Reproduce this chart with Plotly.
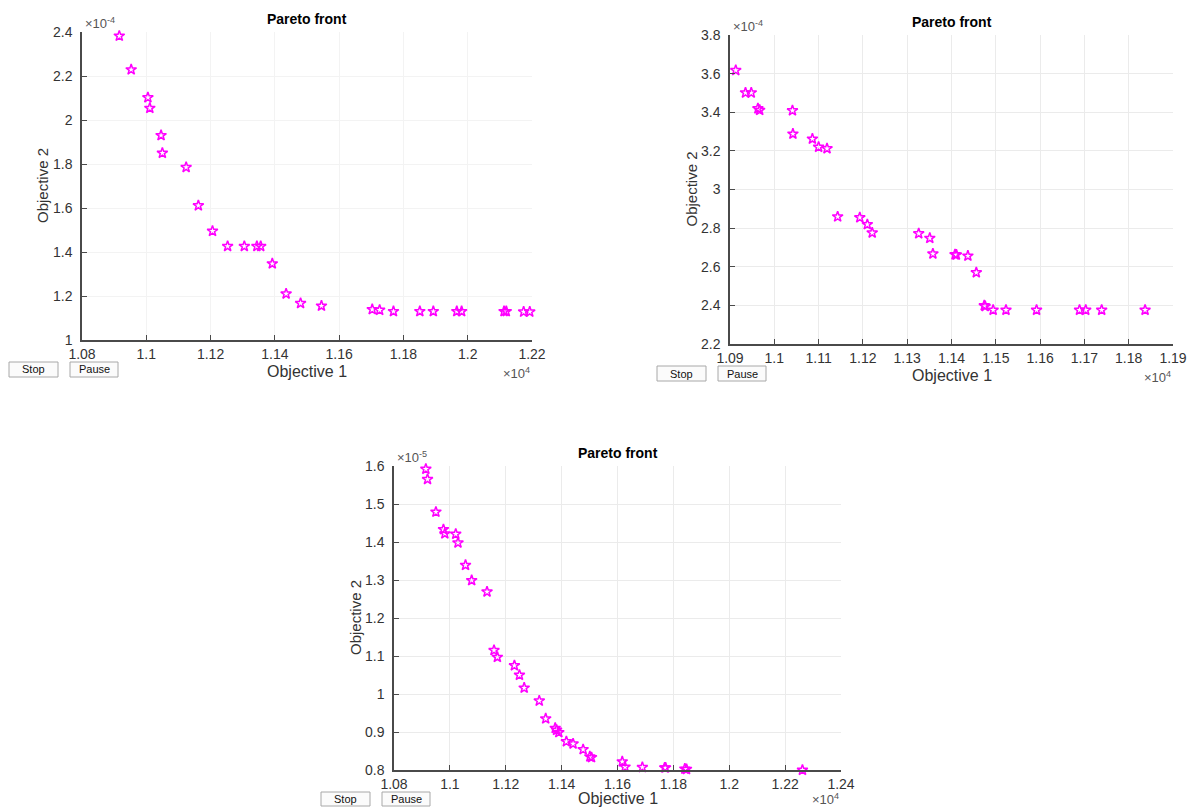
import plotly.graph_objects as go

W, H = 1187, 807

# ---------------- data (x in units of 1e4, y in units of 1e-4 / 1e-5) ----------------
p1_obj1 = [1.0916, 1.0953, 1.1005, 1.1011, 1.1046, 1.1050, 1.1124, 1.1162, 1.1206, 1.1253,
           1.1305, 1.1344, 1.1356, 1.1392, 1.1435, 1.1480, 1.1545, 1.1703, 1.1726, 1.1769,
           1.1851, 1.1893, 1.1966, 1.1981, 1.2113, 1.2120, 1.2174, 1.2193]
p1_obj2 = [2.382, 2.229, 2.102, 2.054, 1.930, 1.850, 1.785, 1.611, 1.495, 1.426,
           1.426, 1.426, 1.426, 1.347, 1.210, 1.167, 1.155, 1.139, 1.136, 1.130,
           1.130, 1.130, 1.130, 1.130, 1.130, 1.130, 1.128, 1.128]

p2_obj1 = [1.0913, 1.0935, 1.0948, 1.0963, 1.0967, 1.1041, 1.1042, 1.1086, 1.1100, 1.1119,
           1.1143, 1.1193, 1.1210, 1.1221, 1.1326, 1.1351, 1.1358, 1.1408, 1.1411, 1.1437,
           1.1456, 1.1474, 1.1476, 1.1494, 1.1523, 1.1592, 1.1689, 1.1703, 1.1739, 1.1837]
p2_obj2 = [3.617, 3.501, 3.501, 3.419, 3.411, 3.409, 3.288, 3.262, 3.220, 3.212,
           2.859, 2.855, 2.819, 2.776, 2.772, 2.748, 2.667, 2.663, 2.662, 2.656,
           2.570, 2.399, 2.395, 2.376, 2.376, 2.376, 2.376, 2.376, 2.376, 2.376]

p3_obj1 = [1.0914, 1.0920, 1.0950, 1.0977, 1.0982, 1.1021, 1.1029, 1.1056, 1.1078, 1.1133,
           1.1158, 1.1170, 1.1231, 1.1249, 1.1266, 1.1320, 1.1343, 1.1377, 1.1382, 1.1390,
           1.1417, 1.1441, 1.1477, 1.1501, 1.1507, 1.1617, 1.1627, 1.1689, 1.1769, 1.1772,
           1.1841, 1.1847, 1.2262]
p3_obj2 = [1.592, 1.565, 1.479, 1.433, 1.422, 1.421, 1.398, 1.339, 1.299, 1.269,
           1.115, 1.097, 1.075, 1.050, 1.016, 0.982, 0.935, 0.910, 0.905, 0.899,
           0.875, 0.869, 0.854, 0.835, 0.833, 0.822, 0.808, 0.807, 0.806, 0.806,
           0.803, 0.802, 0.800]

p1_xticks = [1.08, 1.10, 1.12, 1.14, 1.16, 1.18, 1.20, 1.22]
p1_xtext = ["1.08", "1.1", "1.12", "1.14", "1.16", "1.18", "1.2", "1.22"]
p1_yticks = [1.0, 1.2, 1.4, 1.6, 1.8, 2.0, 2.2, 2.4]
p1_ytext = ["1", "1.2", "1.4", "1.6", "1.8", "2", "2.2", "2.4"]

p2_xticks = [1.09, 1.10, 1.11, 1.12, 1.13, 1.14, 1.15, 1.16, 1.17, 1.18, 1.19]
p2_xtext = ["1.09", "1.1", "1.11", "1.12", "1.13", "1.14", "1.15", "1.16", "1.17", "1.18", "1.19"]
p2_yticks = [2.2, 2.4, 2.6, 2.8, 3.0, 3.2, 3.4, 3.6, 3.8]
p2_ytext = ["2.2", "2.4", "2.6", "2.8", "3", "3.2", "3.4", "3.6", "3.8"]

p3_xticks = [1.08, 1.10, 1.12, 1.14, 1.16, 1.18, 1.20, 1.22, 1.24]
p3_xtext = ["1.08", "1.1", "1.12", "1.14", "1.16", "1.18", "1.2", "1.22", "1.24"]
p3_yticks = [0.8, 0.9, 1.0, 1.1, 1.2, 1.3, 1.4, 1.5, 1.6]
p3_ytext = ["0.8", "0.9", "1", "1.1", "1.2", "1.3", "1.4", "1.5", "1.6"]

title_text = "Pareto front"
xlabel = "Objective 1"
ylabel = "Objective 2"
x_exp = "×10<sup>4</sup>"
y_exps = ["×10<sup>-4</sup>", "×10<sup>-4</sup>", "×10<sup>-5</sup>"]

# ---------------- layout helpers (pixel boxes) ----------------
def px(x):
    return x / W

def py(y):
    return 1 - y / H

# axes boxes in pixels: left, right, top, bottom
boxes = [(82, 532, 32, 340), (730, 1173, 35, 344), (394, 841, 466, 770)]
grid_colors = ["#f3f3f3", "#ebebeb", "#ebebeb"]

panels = [
    (p1_obj1, p1_obj2, p1_xticks, p1_xtext, p1_yticks, p1_ytext, [1.08, 1.22], [1.0, 2.4]),
    (p2_obj1, p2_obj2, p2_xticks, p2_xtext, p2_yticks, p2_ytext, [1.09, 1.19], [2.2, 3.8]),
    (p3_obj1, p3_obj2, p3_xticks, p3_xtext, p3_yticks, p3_ytext, [1.08, 1.24], [0.8, 1.6]),
]

FONT = "Liberation Sans, Arial, Helvetica, sans-serif"
TXT = "#333333"
AXC = "#4a4a4a"
MAG = "#ff00ff"

fig = go.Figure()
layout = dict(
    width=W, height=H,
    margin=dict(l=0, r=0, t=0, b=0, autoexpand=False),
    paper_bgcolor="white", plot_bgcolor="white",
    showlegend=False,
    font=dict(family=FONT, color=TXT, size=14),
)
annotations = []
shapes = []

for i, (box, pan) in enumerate(zip(boxes, panels)):
    l, r, t, b = box
    xs, ys, xt, xtt, yt, ytt, xr, yr = pan
    n = "" if i == 0 else str(i + 1)
    xa, ya = "x" + n, "y" + n
    fig.add_trace(go.Scatter(
        x=xs, y=ys, mode="markers", xaxis=xa, yaxis=ya,
        marker=dict(symbol="star-open", size=8, color=MAG, line=dict(width=1.5, color=MAG)),
        cliponaxis=False, hoverinfo="x+y",
    ))
    layout["xaxis" + n] = dict(
        domain=[px(l), px(r)], anchor=ya, range=xr, automargin=False,
        tickvals=xt, ticktext=xtt, ticks="inside", ticklen=5, tickcolor=AXC,
        showline=True, linecolor=AXC, linewidth=1.5, mirror=False,
        showgrid=True, gridcolor=grid_colors[i], gridwidth=1, zeroline=False,
        ticklabelstandoff=0,
        tickfont=dict(size=14, color=TXT, family=FONT),
    )
    layout["yaxis" + n] = dict(
        domain=[py(b), py(t)], anchor=xa, range=yr, automargin=False,
        tickvals=yt, ticktext=ytt, ticks="inside", ticklen=5, tickcolor=AXC,
        showline=True, linecolor=AXC, linewidth=1.5, mirror=False,
        showgrid=True, gridcolor=grid_colors[i], gridwidth=1, zeroline=False,
        ticklabelstandoff=5,
        tickfont=dict(size=14, color=TXT, family=FONT),
    )
    cx = (l + r) / 2
    # title
    annotations.append(dict(text="<b>" + title_text + "</b>", x=px(cx), y=py(t - 13),
                            xref="paper", yref="paper", showarrow=False,
                            xanchor="center", yanchor="middle",
                            font=dict(size=14, color="black", family=FONT)))
    # x label
    annotations.append(dict(text=xlabel, x=px(cx), y=py(min(b + 31, H - 9)),
                            xref="paper", yref="paper", showarrow=False,
                            xanchor="center", yanchor="middle",
                            font=dict(size=16, color=TXT, family=FONT)))
    # y label
    annotations.append(dict(text=ylabel, x=px(l - 39), y=py((t + b) / 2),
                            xref="paper", yref="paper", showarrow=False, textangle=-90,
                            xanchor="center", yanchor="middle",
                            font=dict(size=15, color=TXT, family=FONT)))
    # exponents
    annotations.append(dict(text=y_exps[i], x=px(l + 1), y=py(t - 9),
                            xref="paper", yref="paper", showarrow=False,
                            xanchor="left", yanchor="middle",
                            font=dict(size=13, color="#555555", family=FONT)))
    annotations.append(dict(text=x_exp, x=px(r), y=py(min(b + 33, H - 8)),
                            xref="paper", yref="paper", showarrow=False,
                            xanchor="right", yanchor="middle",
                            font=dict(size=13, color="#555555", family=FONT)))
    # Stop / Pause buttons
    bt = b + 22
    bb = min(b + 37, H - 1)
    for (bl, br, lab) in [(l - 73, l - 24, "Stop"), (l - 12, l + 36, "Pause")]:
        shapes.append(dict(type="rect", xref="paper", yref="paper",
                           x0=px(bl), x1=px(br), y0=py(bb), y1=py(bt),
                           line=dict(color="#a8a8a8", width=1), fillcolor="#fbfbfb"))
        annotations.append(dict(text=lab, x=px((bl + br) / 2), y=py((bt + bb) / 2),
                                xref="paper", yref="paper", showarrow=False,
                                xanchor="center", yanchor="middle",
                                font=dict(size=11, color="#111111", family=FONT)))

layout["annotations"] = annotations
layout["shapes"] = shapes
fig.update_layout(**layout)
fig.write_html("out.html", config={"displayModeBar": False},
               post_script="document.body.style.margin='0';document.body.style.overflow='hidden';")
